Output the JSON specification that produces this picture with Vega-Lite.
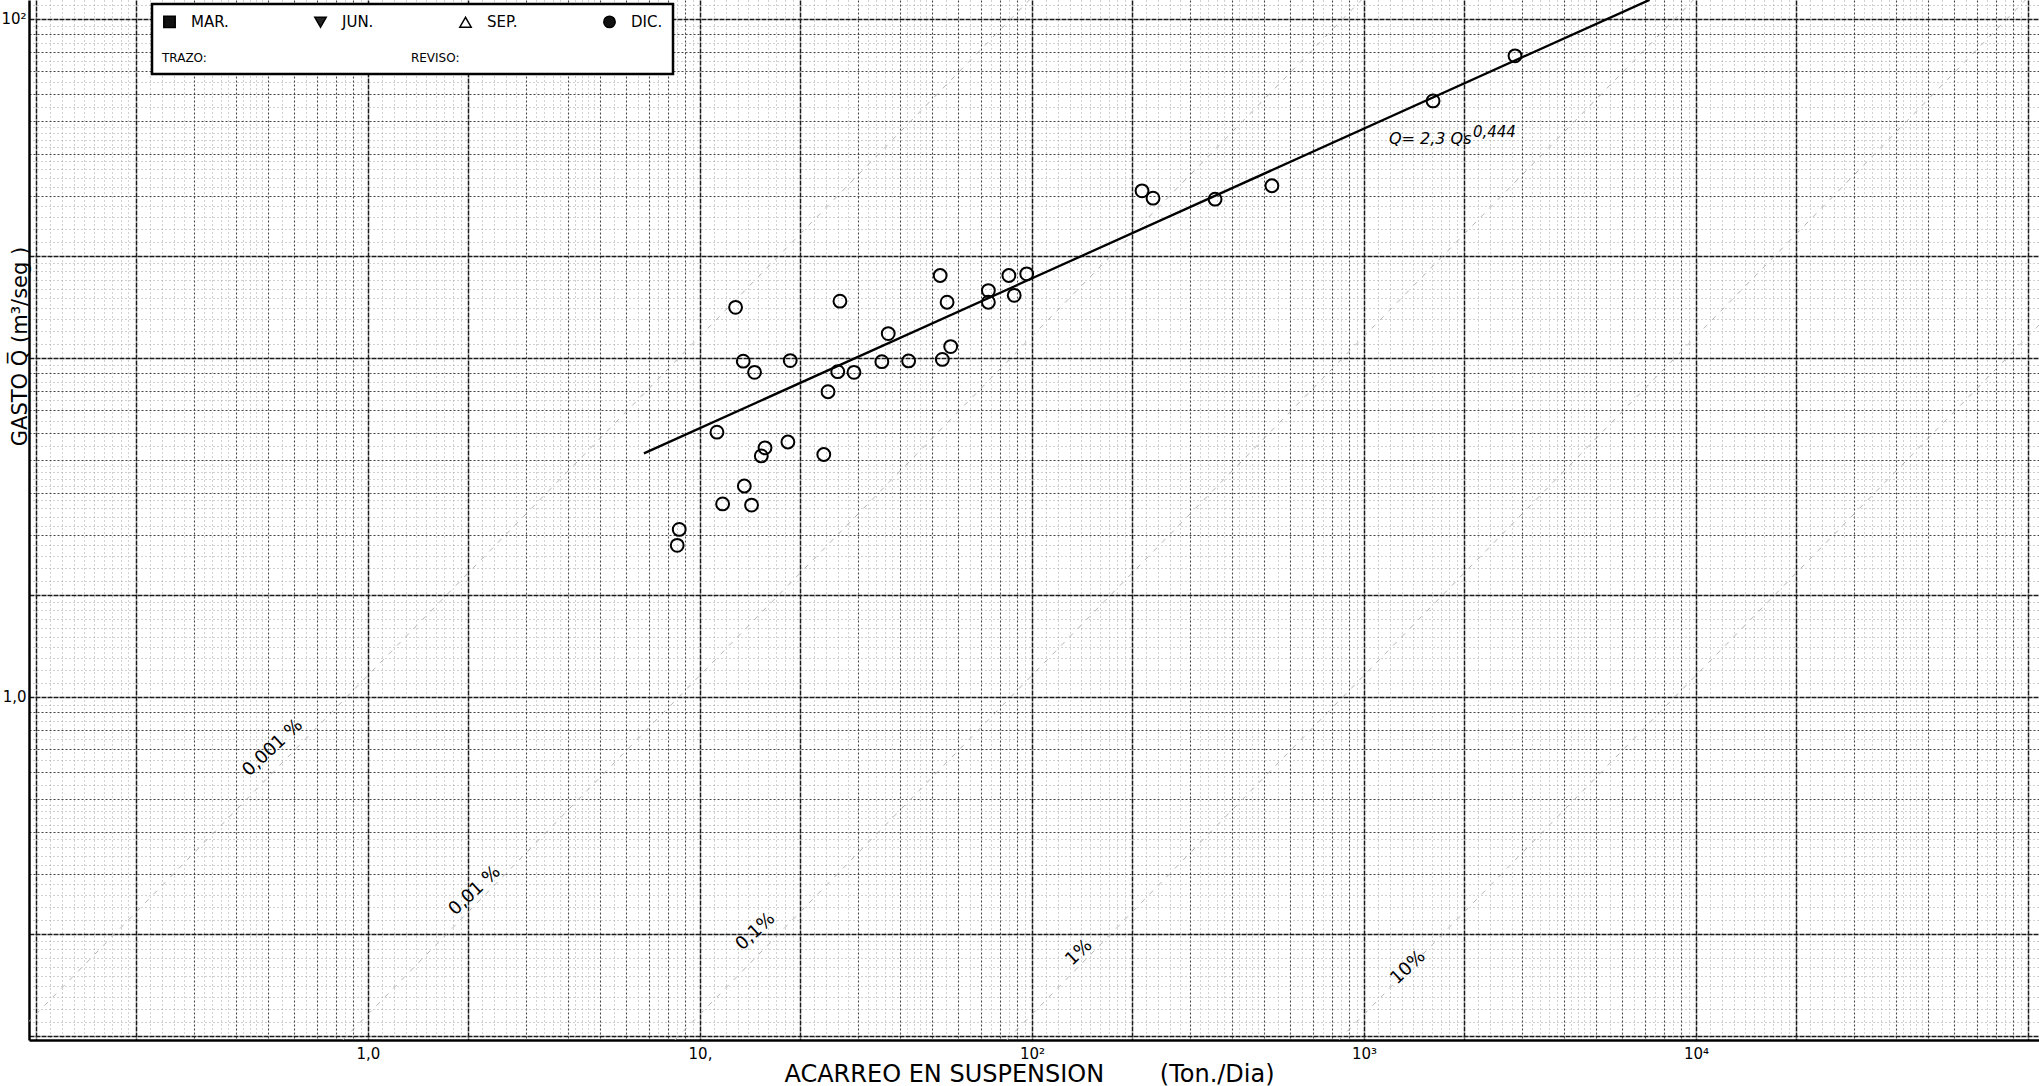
{
  "$schema": "https://vega.github.io/schema/vega-lite/v6.json",
  "width": 2010,
  "height": 1040,
  "autosize": {"type": "none"},
  "padding": {"left": 29, "top": 0, "right": 0, "bottom": 46},
  "background": "white",
  "config": {
    "view": {"stroke": null},
    "font": "DejaVu Sans",
    "legend": {"strokeColor": "black", "strokeWidth": 2.5, "fillColor": "white", "padding": 10, "labelFont": "DejaVu Sans", "titleFont": "DejaVu Sans"}
  },
  "layer": [
    {
      "data": {"values": [
        {"pct": "0,001%", "qs": 0.084, "q": 0.0973}, {"pct": "0,001%", "qs": 98.2, "q": 113.7},
        {"pct": "0,01%", "qs": 0.84, "q": 0.0973}, {"pct": "0,01%", "qs": 982, "q": 113.7},
        {"pct": "0,1%", "qs": 8.4, "q": 0.0973}, {"pct": "0,1%", "qs": 9820, "q": 113.7},
        {"pct": "1%", "qs": 84, "q": 0.0973}, {"pct": "1%", "qs": 98200, "q": 113.7},
        {"pct": "10%", "qs": 840, "q": 0.0973}, {"pct": "10%", "qs": 982000, "q": 113.7}
      ]},
      "mark": {"type": "line", "stroke": "#b4b4b4", "strokeWidth": 1, "strokeDash": [5, 7], "clip": true},
      "encoding": {
        "detail": {"field": "pct", "type": "nominal"},
        "x": {
          "field": "qs", "type": "quantitative",
          "scale": {"type": "log", "domain": [0.0953, 107900]},
          "axis": {
            "orient": "bottom",
            "values": [0.1,0.11,0.12,0.13,0.14,0.15,0.16,0.17,0.18,0.19,0.2,0.22,0.24,0.26,0.28,0.3,0.32,0.34,0.36,0.38,0.4,0.42,0.44,0.46,0.48,0.5,0.55,0.6,0.65,0.7,0.75,0.8,0.85,0.9,0.95,
              1,1.1,1.2,1.3,1.4,1.5,1.6,1.7,1.8,1.9,2,2.2,2.4,2.6,2.8,3,3.2,3.4,3.6,3.8,4,4.2,4.4,4.6,4.8,5,5.5,6,6.5,7,7.5,8,8.5,9,9.5,
              10,11,12,13,14,15,16,17,18,19,20,22,24,26,28,30,32,34,36,38,40,42,44,46,48,50,55,60,65,70,75,80,85,90,95,
              100,110,120,130,140,150,160,170,180,190,200,220,240,260,280,300,320,340,360,380,400,420,440,460,480,500,550,600,650,700,750,800,850,900,950,
              1000,1100,1200,1300,1400,1500,1600,1700,1800,1900,2000,2200,2400,2600,2800,3000,3200,3400,3600,3800,4000,4200,4400,4600,4800,5000,5500,6000,6500,7000,7500,8000,8500,9000,9500,
              10000,11000,12000,13000,14000,15000,16000,17000,18000,19000,20000,22000,24000,26000,28000,30000,32000,34000,36000,38000,40000,42000,44000,46000,48000,50000,55000,60000,65000,70000,75000,80000,85000,90000,95000,
              100000],
            "grid": true,
            "gridColor": {"condition": [
              {"test": "abs(datum.value / pow(10, floor(log(datum.value) / LN10 + 1e-9)) - 1) < 1e-6 || abs(datum.value / pow(10, floor(log(datum.value) / LN10 + 1e-9)) - 2) < 1e-6", "value": "#1a1a1a"},
              {"test": "abs(datum.value / pow(10, floor(log(datum.value) / LN10 + 1e-9)) - round(datum.value / pow(10, floor(log(datum.value) / LN10 + 1e-9)))) < 1e-6", "value": "#454545"}
            ], "value": "#a2a2a2"},
            "gridWidth": {"condition": [
              {"test": "abs(datum.value / pow(10, floor(log(datum.value) / LN10 + 1e-9)) - 1) < 1e-6 || abs(datum.value / pow(10, floor(log(datum.value) / LN10 + 1e-9)) - 2) < 1e-6", "value": 1.5},
              {"test": "abs(datum.value / pow(10, floor(log(datum.value) / LN10 + 1e-9)) - round(datum.value / pow(10, floor(log(datum.value) / LN10 + 1e-9)))) < 1e-6", "value": 1.1}
            ], "value": 1},
            "gridDash": {"condition": [
              {"test": "abs(datum.value / pow(10, floor(log(datum.value) / LN10 + 1e-9)) - 1) < 1e-6 || abs(datum.value / pow(10, floor(log(datum.value) / LN10 + 1e-9)) - 2) < 1e-6", "value": [5, 1]},
              {"test": "abs(datum.value / pow(10, floor(log(datum.value) / LN10 + 1e-9)) - round(datum.value / pow(10, floor(log(datum.value) / LN10 + 1e-9)))) < 1e-6", "value": [2, 2]}
            ], "value": [1, 3]},
            "ticks": false,
            "domain": true, "domainColor": "black", "domainWidth": 2.5,
            "labelExpr": "datum.value == 1 ? '1,0' : datum.value == 10 ? '10,' : datum.value == 100 ? '10²' : datum.value == 1000 ? '10³' : datum.value == 10000 ? '10⁴' : ''",
            "labelFont": "DejaVu Sans", "labelFontSize": 15, "labelColor": "black", "labelPadding": 6,
            "labelOverlap": false, "labelBound": false, "labelFlush": false,
            "title": "ACARREO EN SUSPENSION\u2003\u2003 (Ton./Dia)",
            "titleFont": "DejaVu Sans", "titleFontSize": 24, "titleFontWeight": "normal", "titleColor": "black",
            "titleX": 1000, "titleY": 34, "titleBaseline": "middle"
          }
        },
        "y": {
          "field": "q", "type": "quantitative",
          "scale": {"type": "log", "domain": [0.0973, 113.7]},
          "axis": {
            "orient": "left",
            "values": [0.1,0.11,0.12,0.13,0.14,0.15,0.16,0.17,0.18,0.19,0.2,0.22,0.24,0.26,0.28,0.3,0.32,0.34,0.36,0.38,0.4,0.42,0.44,0.46,0.48,0.5,0.55,0.6,0.65,0.7,0.75,0.8,0.85,0.9,0.95,
              1,1.1,1.2,1.3,1.4,1.5,1.6,1.7,1.8,1.9,2,2.2,2.4,2.6,2.8,3,3.2,3.4,3.6,3.8,4,4.2,4.4,4.6,4.8,5,5.5,6,6.5,7,7.5,8,8.5,9,9.5,
              10,11,12,13,14,15,16,17,18,19,20,22,24,26,28,30,32,34,36,38,40,42,44,46,48,50,55,60,65,70,75,80,85,90,95,
              100,110],
            "grid": true,
            "gridColor": {"condition": [
              {"test": "abs(datum.value / pow(10, floor(log(datum.value) / LN10 + 1e-9)) - 1) < 1e-6 || abs(datum.value / pow(10, floor(log(datum.value) / LN10 + 1e-9)) - 2) < 1e-6", "value": "#1a1a1a"},
              {"test": "abs(datum.value / pow(10, floor(log(datum.value) / LN10 + 1e-9)) - round(datum.value / pow(10, floor(log(datum.value) / LN10 + 1e-9)))) < 1e-6", "value": "#454545"}
            ], "value": "#a2a2a2"},
            "gridWidth": {"condition": [
              {"test": "abs(datum.value / pow(10, floor(log(datum.value) / LN10 + 1e-9)) - 1) < 1e-6 || abs(datum.value / pow(10, floor(log(datum.value) / LN10 + 1e-9)) - 2) < 1e-6", "value": 1.5},
              {"test": "abs(datum.value / pow(10, floor(log(datum.value) / LN10 + 1e-9)) - round(datum.value / pow(10, floor(log(datum.value) / LN10 + 1e-9)))) < 1e-6", "value": 1.1}
            ], "value": 1},
            "gridDash": {"condition": [
              {"test": "abs(datum.value / pow(10, floor(log(datum.value) / LN10 + 1e-9)) - 1) < 1e-6 || abs(datum.value / pow(10, floor(log(datum.value) / LN10 + 1e-9)) - 2) < 1e-6", "value": [5, 1]},
              {"test": "abs(datum.value / pow(10, floor(log(datum.value) / LN10 + 1e-9)) - round(datum.value / pow(10, floor(log(datum.value) / LN10 + 1e-9)))) < 1e-6", "value": [2, 2]}
            ], "value": [1, 3]},
            "ticks": false,
            "domain": true, "domainColor": "black", "domainWidth": 2.5,
            "labelExpr": "datum.value == 100 ? '10²' : datum.value == 1 ? '1,0' : ''",
            "labelFont": "DejaVu Sans", "labelFontSize": 15, "labelColor": "black", "labelPadding": 3,
            "labelOverlap": false, "labelBound": false, "labelFlush": false,
            "title": "GASTO Q\u0305 (m³/seg )",
            "titleFont": "DejaVu Sans", "titleFontSize": 21, "titleFontWeight": "normal", "titleColor": "black",
            "titleX": -9, "titleY": 346, "titleBaseline": "middle", "titleAlign": "center", "titleAngle": -90
          }
        }
      }
    },
    {
      "data": {"values": [{"qs": 6.78, "q": 5.23}, {"qs": 7244, "q": 113.8}]},
      "mark": {"type": "line", "color": "black", "strokeWidth": 2.3, "clip": true},
      "encoding": {
        "x": {"field": "qs", "type": "quantitative", "scale": {"type": "log", "domain": [0.0953, 107900]}},
        "y": {"field": "q", "type": "quantitative", "scale": {"type": "log", "domain": [0.0973, 113.7]}}
      }
    },
    {
      "data": {"values": [
        {"qs": 52.9, "q": 17.5}, {"qs": 85.2, "q": 17.5}, {"qs": 96.4, "q": 17.7}, {"qs": 73.9, "q": 15.8},
        {"qs": 73.9, "q": 14.6}, {"qs": 88.4, "q": 15.3}, {"qs": 55.5, "q": 14.6}, {"qs": 26.4, "q": 14.7},
        {"qs": 12.8, "q": 14.1}, {"qs": 36.9, "q": 11.8}, {"qs": 56.9, "q": 10.8}, {"qs": 53.7, "q": 9.9},
        {"qs": 42.5, "q": 9.8}, {"qs": 35.3, "q": 9.75}, {"qs": 29.1, "q": 9.07}, {"qs": 26.0, "q": 9.11},
        {"qs": 18.7, "q": 9.82}, {"qs": 13.5, "q": 9.78}, {"qs": 14.6, "q": 9.07}, {"qs": 24.3, "q": 7.95},
        {"qs": 11.25, "q": 6.04}, {"qs": 18.4, "q": 5.65}, {"qs": 15.7, "q": 5.43}, {"qs": 15.3, "q": 5.14},
        {"qs": 23.6, "q": 5.19}, {"qs": 13.6, "q": 4.19}, {"qs": 11.7, "q": 3.71}, {"qs": 14.3, "q": 3.68},
        {"qs": 8.66, "q": 3.12}, {"qs": 8.54, "q": 2.80},
        {"qs": 2850, "q": 77.8}, {"qs": 1614, "q": 57.3}, {"qs": 528, "q": 32.2}, {"qs": 356, "q": 29.4},
        {"qs": 214.5, "q": 31.1}, {"qs": 231.5, "q": 29.6}
      ]},
      "mark": {"type": "point", "shape": "circle", "filled": false, "stroke": "black", "strokeWidth": 2, "size": 165, "opacity": 1},
      "encoding": {
        "x": {"field": "qs", "type": "quantitative", "scale": {"type": "log", "domain": [0.0953, 107900]}},
        "y": {"field": "q", "type": "quantitative", "scale": {"type": "log", "domain": [0.0973, 113.7]}}
      }
    },
    {
      "data": {"values": [
        {"qs": 0.517, "q": 0.707, "t": "0,001 %"},
        {"qs": 2.10, "q": 0.268, "t": "0,01 %"},
        {"qs": 14.7, "q": 0.203, "t": "0,1%"},
        {"qs": 138.6, "q": 0.176, "t": "1%"},
        {"qs": 1358, "q": 0.159, "t": "10%"}
      ]},
      "mark": {"type": "text", "angle": -43, "fontSize": 18, "font": "DejaVu Sans", "color": "black", "align": "center", "baseline": "middle"},
      "encoding": {
        "x": {"field": "qs", "type": "quantitative", "scale": {"type": "log", "domain": [0.0953, 107900]}},
        "y": {"field": "q", "type": "quantitative", "scale": {"type": "log", "domain": [0.0973, 113.7]}},
        "text": {"field": "t"}
      }
    },
    {
      "data": {"values": [{"qs": 1189, "q": 42.8, "t": "Q= 2,3 Qs"}]},
      "mark": {"type": "text", "fontSize": 16, "font": "DejaVu Sans", "fontStyle": "italic", "color": "black", "align": "left", "baseline": "alphabetic"},
      "encoding": {
        "x": {"field": "qs", "type": "quantitative", "scale": {"type": "log", "domain": [0.0953, 107900]}},
        "y": {"field": "q", "type": "quantitative", "scale": {"type": "log", "domain": [0.0973, 113.7]}},
        "text": {"field": "t"}
      }
    },
    {
      "data": {"values": [{"qs": 1189, "q": 42.8, "t": "0,444"}]},
      "mark": {"type": "text", "fontSize": 15, "font": "DejaVu Sans", "fontStyle": "italic", "color": "black", "align": "left", "baseline": "alphabetic", "dx": 84, "dy": -7},
      "encoding": {
        "x": {"field": "qs", "type": "quantitative", "scale": {"type": "log", "domain": [0.0953, 107900]}},
        "y": {"field": "q", "type": "quantitative", "scale": {"type": "log", "domain": [0.0973, 113.7]}},
        "text": {"field": "t"}
      }
    },
    {
      "data": {"values": [{"mes": "MAR."}, {"mes": "JUN."}, {"mes": "SEP."}, {"mes": "DIC."}]},
      "mark": {"type": "point", "filled": true, "opacity": 0, "stroke": "black", "strokeWidth": 1.5, "size": 130},
      "encoding": {
        "shape": {
          "field": "mes", "type": "nominal",
          "scale": {"domain": ["MAR.", "JUN.", "SEP.", "DIC."], "range": ["square", "triangle-down", "triangle-up", "circle"]},
          "legend": {"orient": "none", "legendX": 123, "legendY": 4, "direction": "horizontal", "columns": 4, "columnPadding": 82,
            "title": "\u2003\u2003TRAZO:\u2003\u2003\u2003\u2003\u2003\u2003\u2003\u2003\u2003\u2003\u2003\u2003\u2003\u2003\u2003\u2003\u2003REVISO:",
            "titleOrient": "bottom", "titlePadding": 22, "titleFontSize": 12, "titleFontWeight": "normal", "titleColor": "black", "titleAnchor": "start", "titleLimit": 800,
            "labelFontSize": 15, "labelColor": "black", "labelOffset": 14, "symbolSize": 130, "symbolStrokeColor": "black", "symbolStrokeWidth": 1.5, "symbolOpacity": 1}
        },
        "fill": {
          "field": "mes", "type": "nominal",
          "scale": {"domain": ["MAR.", "JUN.", "SEP.", "DIC."], "range": ["#111111", "#222222", "#ffffff", "#111111"]},
          "legend": {"orient": "none", "legendX": 123, "legendY": 4, "direction": "horizontal", "columns": 4, "columnPadding": 82,
            "title": "\u2003\u2003TRAZO:\u2003\u2003\u2003\u2003\u2003\u2003\u2003\u2003\u2003\u2003\u2003\u2003\u2003\u2003\u2003\u2003\u2003REVISO:",
            "titleOrient": "bottom", "titlePadding": 22, "titleFontSize": 12, "titleFontWeight": "normal", "titleColor": "black", "titleAnchor": "start", "titleLimit": 800,
            "labelFontSize": 15, "labelColor": "black", "labelOffset": 14, "symbolSize": 130, "symbolStrokeColor": "black", "symbolStrokeWidth": 1.5, "symbolOpacity": 1}
        },
        "stroke": {
          "field": "mes", "type": "nominal",
          "scale": {"domain": ["MAR.", "JUN.", "SEP.", "DIC."], "range": ["#000000", "#000000", "#000000", "#000000"]},
          "legend": {"orient": "none", "legendX": 123, "legendY": 4, "direction": "horizontal", "columns": 4, "columnPadding": 82,
            "title": "\u2003\u2003TRAZO:\u2003\u2003\u2003\u2003\u2003\u2003\u2003\u2003\u2003\u2003\u2003\u2003\u2003\u2003\u2003\u2003\u2003REVISO:",
            "titleOrient": "bottom", "titlePadding": 22, "titleFontSize": 12, "titleFontWeight": "normal", "titleColor": "black", "titleAnchor": "start", "titleLimit": 800,
            "labelFontSize": 15, "labelColor": "black", "labelOffset": 14, "symbolSize": 130, "symbolStrokeColor": "black", "symbolStrokeWidth": 1.5, "symbolOpacity": 1}
        }
      }
    }
  ]
}
